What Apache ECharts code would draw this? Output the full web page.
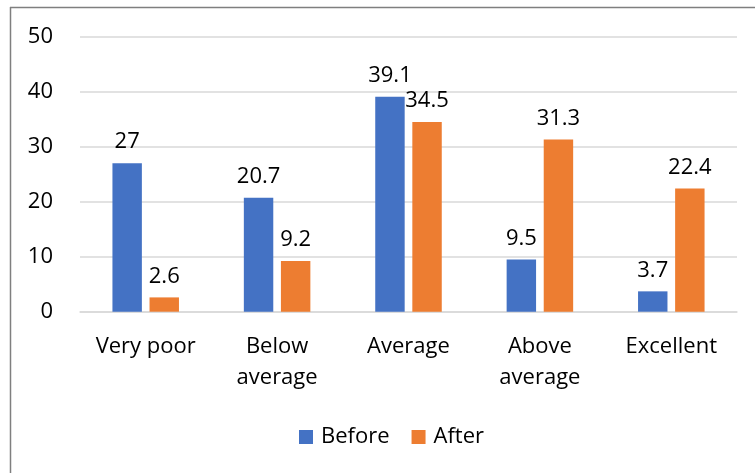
<!DOCTYPE html>
<html>
<head>
<meta charset="utf-8">
<script src="https://cdn.jsdelivr.net/npm/echarts@6/dist/echarts.min.js"></script>
<style>
  html, body { margin: 0; padding: 0; background: #fff; }
  #chart { width: 755px; height: 473px; }
</style>
</head>
<body>
<div id="chart"></div>
<script>
// Ratings before and after, in percent
const categories = ['Very poor', 'Below\naverage', 'Average', 'Above\naverage', 'Excellent'];
const seriesNames = ['Before', 'After'];
const beforeValues = [27, 20.7, 39.1, 9.5, 3.7];
const afterValues = [2.6, 9.2, 34.5, 31.3, 22.4];
const yTicks = { min: 0, max: 50, interval: 10 };

const FONT = '"Open Sans", "Noto Sans", sans-serif';
const TEXT = '#000000';
const SIZE = 22;

const chart = echarts.init(document.getElementById('chart'), null, { renderer: 'canvas' });

const valueLabel = {
  show: true,
  position: 'top',
  distance: 10,
  color: TEXT,
  fontFamily: FONT,
  fontSize: SIZE
};

chart.setOption({
  animation: false,
  backgroundColor: '#ffffff',
  textStyle: { fontFamily: FONT },
  graphic: [
    // frame: top and left edges
    { type: 'line', shape: { x1: 10, y1: 7.5, x2: 755, y2: 7.5 }, style: { stroke: '#7f7f7f', lineWidth: 1.5 } },
    { type: 'line', shape: { x1: 10.5, y1: 7, x2: 10.5, y2: 473 }, style: { stroke: '#7f7f7f', lineWidth: 1.5 } }
  ],
  grid: { left: 80, right: 18, top: 36.7, bottom: 161.3, containLabel: false },
  legend: {
    data: seriesNames,
    top: 421,
    left: 294,
    itemWidth: 14,
    itemHeight: 14,
    itemGap: 22,
    icon: 'rect',
    textStyle: { color: TEXT, fontFamily: FONT, fontSize: SIZE, padding: [0, 0, 0, 3] }
  },
  xAxis: {
    type: 'category',
    data: categories,
    axisLine: { show: true, lineStyle: { color: '#d9d9d9', width: 1.5 } },
    axisTick: { show: false },
    axisLabel: { color: TEXT, fontFamily: FONT, fontSize: SIZE, lineHeight: 31, margin: 20 }
  },
  yAxis: {
    type: 'value',
    min: yTicks.min,
    max: yTicks.max,
    interval: yTicks.interval,
    axisLine: { show: false },
    axisTick: { show: false },
    splitLine: { lineStyle: { color: '#d9d9d9', width: 1.5 } },
    axisLabel: { color: TEXT, fontFamily: FONT, fontSize: SIZE, margin: 27 }
  },
  series: [
    {
      name: seriesNames[0],
      type: 'bar',
      data: beforeValues,
      barWidth: '22.4%',
      barGap: '26%',
      itemStyle: { color: '#4472C4' },
      label: valueLabel
    },
    {
      name: seriesNames[1],
      type: 'bar',
      data: afterValues,
      barWidth: '22.4%',
      itemStyle: { color: '#ED7D31' },
      label: valueLabel
    }
  ]
});
</script>
</body>
</html>
